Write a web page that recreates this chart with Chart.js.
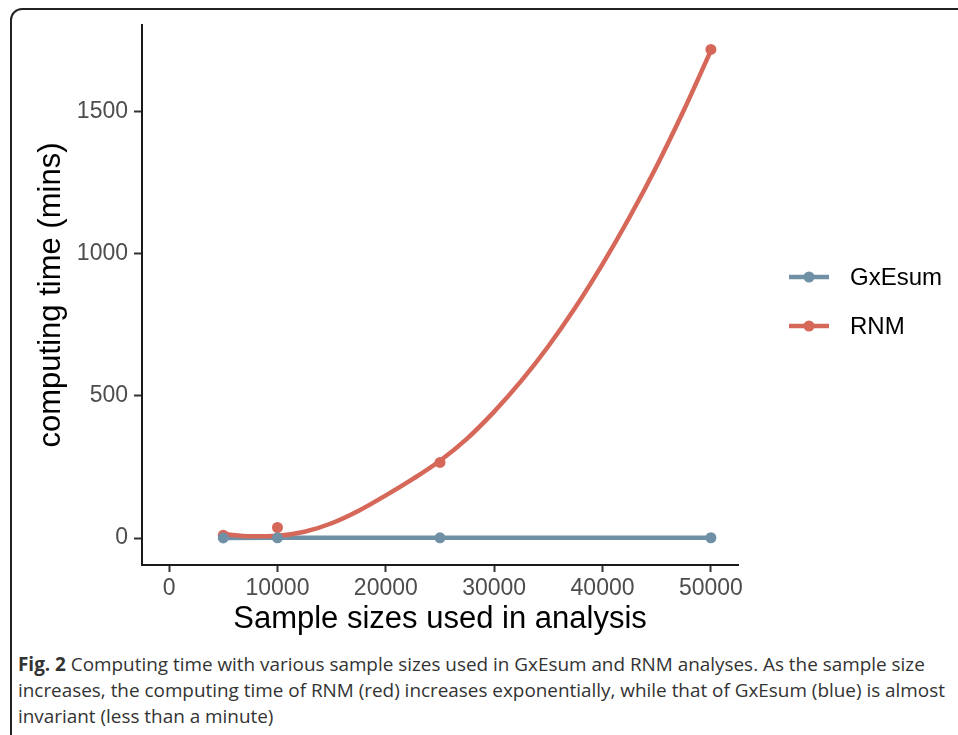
<!DOCTYPE html>
<html>
<head>
<meta charset="utf-8">
<script src="https://cdn.jsdelivr.net/npm/chart.js@4"></script>
<style>
  body { margin: 0; background: #fff; width: 958px; height: 735px; overflow: hidden; position: relative; }
  #frame { position: absolute; left: 10px; top: 8px; width: 1000px; height: 800px; border: 2px solid #222; border-radius: 12px; box-sizing: border-box; }
  #wrap { position: absolute; left: 0; top: 0; width: 958px; height: 645px; }
  #caption { position: absolute; left: 18px; top: 651px; width: 940px; white-space: nowrap; font-family: 'Open Sans', 'Noto Sans', sans-serif; font-size: 18.9px; line-height: 26px; color: #333; }
</style>
</head>
<body>
<div id="frame"></div>
<div id="wrap"><canvas id="timeChart" width="958" height="645"></canvas></div>
<div id="caption"><b>Fig. 2</b> Computing time with various sample sizes used in GxEsum and RNM analyses. As the sample size<br>increases, the computing time of RNM (red) increases exponentially, while that of GxEsum (blue) is almost<br>invariant (less than a minute)</div>
<script>
// sample sizes and measured times (mins)
const sampleSizes = [5000, 10000, 25000, 50000];
const gxesumTimes = [0.4, 0.5, 0.7, 0.9];
const rnmTimes = [10, 37, 266, 1720];

// smoothed RNM curve
const rnmCurveX = [5000, 7500, 10000, 12500, 15000, 17500, 20000, 22500, 25000, 27500, 30000, 32500, 35000, 37500, 40000, 42500, 45000, 47500, 50000];
const rnmCurveY = [14, 6, 8, 22, 52, 96, 150, 208, 272, 350, 445, 553, 675, 812, 964, 1130, 1310, 1506, 1716];

const xTicks = [0, 10000, 20000, 30000, 40000, 50000];
const yTicks = [0, 500, 1000, 1500];

const seriesNames = ['GxEsum', 'RNM'];
const blue = '#7090a6';
const red = '#d6685a';
const fontFam = "'Liberation Sans', Arial, sans-serif";

const toXY = (xs, ys) => xs.map((x, i) => ({ x: x, y: ys[i] }));

// ggplot-style legend on the right
const sideLegend = {
  id: 'sideLegend',
  afterDraw(chart) {
    const ctx = chart.ctx;
    const colors = [blue, red];
    seriesNames.forEach((name, i) => {
      const y = 277 + i * 49;
      ctx.save();
      ctx.strokeStyle = colors[i];
      ctx.lineWidth = 4.5;
      ctx.beginPath();
      ctx.moveTo(789, y);
      ctx.lineTo(829, y);
      ctx.stroke();
      ctx.fillStyle = colors[i];
      ctx.beginPath();
      ctx.arc(809, y, 5.5, 0, Math.PI * 2);
      ctx.fill();
      ctx.fillStyle = '#000';
      ctx.font = '24px ' + fontFam;
      ctx.textBaseline = 'middle';
      ctx.fillText(name, 850, y + 1);
      ctx.restore();
    });
  }
};

const ctx = document.getElementById('timeChart').getContext('2d');
new Chart(ctx, {
  type: 'line',
  data: {
    datasets: [
      {
        label: 'GxEsum line',
        data: toXY(sampleSizes, gxesumTimes),
        borderColor: blue,
        borderWidth: 4.5,
        pointRadius: 0,
        order: 4
      },
      {
        label: 'RNM smooth',
        data: toXY(rnmCurveX, rnmCurveY),
        borderColor: red,
        borderWidth: 4.5,
        pointRadius: 0,
        cubicInterpolationMode: 'monotone',
        order: 3
      },
      {
        label: 'RNM',
        data: toXY(sampleSizes, rnmTimes),
        showLine: false,
        pointRadius: 5.5,
        pointBackgroundColor: red,
        pointBorderWidth: 0,
        order: 2
      },
      {
        label: 'GxEsum',
        data: toXY(sampleSizes, gxesumTimes),
        showLine: false,
        pointRadius: 5.5,
        pointBackgroundColor: blue,
        pointBorderWidth: 0,
        order: 1
      }
    ]
  },
  options: {
    responsive: false,
    animation: false,
    layout: { padding: { left: 0, top: 25, right: 220, bottom: 0 } },
    plugins: { legend: { display: false }, tooltip: { enabled: false } },
    scales: {
      x: {
        type: 'linear',
        min: -2500,
        max: 52500,
        afterFit(s) { s.height = 80; },
        afterBuildTicks(s) { s.ticks = xTicks.map(v => ({ value: v })); },
        border: { display: true, color: '#1a1a1a', width: 2 },
        grid: { display: true, drawOnChartArea: false, drawTicks: true, tickLength: 7, tickColor: '#333', tickWidth: 2 },
        ticks: { color: '#4d4d4d', font: { size: 23, family: fontFam }, padding: 3, maxRotation: 0, callback: v => String(v) },
        title: { display: true, text: 'Sample sizes used in analysis', color: '#000', font: { size: 31, family: fontFam }, padding: { top: 0, bottom: 7 } }
      },
      y: {
        type: 'linear',
        min: -95,
        max: 1806,
        afterFit(s) { s.width = 142; },
        afterBuildTicks(s) { s.ticks = yTicks.map(v => ({ value: v })); },
        border: { display: true, color: '#1a1a1a', width: 2 },
        grid: { display: true, drawOnChartArea: false, drawTicks: true, tickLength: 8, tickColor: '#333', tickWidth: 2 },
        ticks: { color: '#4d4d4d', font: { size: 23, family: fontFam }, padding: 6, callback: v => String(v) },
        title: { display: true, text: 'computing time (mins)', color: '#000', font: { size: 31, family: fontFam }, padding: { top: 33, bottom: 0 } }
      }
    }
  },
  plugins: [sideLegend]
});
</script>
</body>
</html>
